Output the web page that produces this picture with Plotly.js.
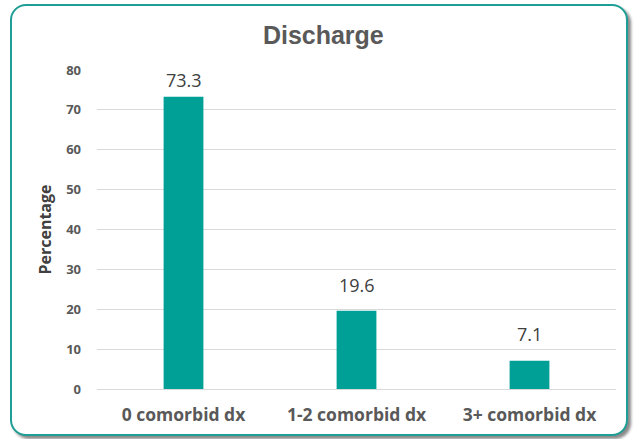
<!DOCTYPE html>
<html><head><meta charset="utf-8">
<script src="https://cdn.plot.ly/plotly-3.0.1.min.js"></script>
<style>
html,body{margin:0;padding:0;background:#fff;}
#frame{position:absolute;left:10px;top:4px;width:614px;height:428px;border:2px solid #1e9e94;border-radius:16px;box-shadow:3px 3px 3px #8a8a8a;background:#fff;}
#chart{position:absolute;left:0;top:0;width:634px;height:439px;}
</style></head>
<body>
<div id="frame"></div>
<div id="chart"></div>
<script>
const categories = ["0 comorbid dx", "1-2 comorbid dx", "3+ comorbid dx"];
const values = [73.3, 19.6, 7.1];
const labels = ["73.3", "19.6", "7.1"];
const tickVals = [0, 10, 20, 30, 40, 50, 60, 70, 80];

const trace = {
  type: "bar",
  x: categories,
  y: values,
  marker: {color: "#00A096"},
  width: 0.23,
  hoverinfo: "none"
};
// data labels placed above each bar (Excel-style, kept inside the plot area)
const annotations = categories.map((c, i) => ({
  x: c, y: Math.min(values[i] + 6.6, 77.4), xref: "x", yref: "y",
  text: labels[i], showarrow: false, yanchor: "middle", xanchor: "center",
  font: {family: "'Open Sans', sans-serif", size: 18, color: "#404040"}
}));
const layout = {
  width: 634, height: 439,
  paper_bgcolor: "rgba(0,0,0,0)",
  plot_bgcolor: "rgba(0,0,0,0)",
  margin: {l: 97, r: 18, t: 70, b: 50},
  title: {text: "<b>Discharge</b>", x: 0.51, xanchor: "center", y: 0.92, yanchor: "middle",
    font: {family: "Liberation Sans, Arial, sans-serif", size: 25, color: "#595959"}},
  showlegend: false,
  annotations: annotations,
  xaxis: {
    tickfont: {family: "'Open Sans', sans-serif", size: 17.5, color: "#595959", weight: "bold"},
    showgrid: false, showline: false, zeroline: false, ticks: "", fixedrange: true,
    ticklabelstandoff: 13
  },
  yaxis: {
    range: [0, 80], tickvals: tickVals, ticktext: tickVals.map(String),
    tickfont: {family: "'Open Sans', sans-serif", size: 13, color: "#595959", weight: "bold"},
    gridcolor: "#d9d9d9", gridwidth: 1, zeroline: true, zerolinecolor: "#d9d9d9", zerolinewidth: 1,
    showline: false, ticks: "", ticklen: 0, ticklabelstandoff: 15,
    title: {text: "<b>Percentage</b>", standoff: 10,
      font: {family: "'Open Sans', sans-serif", size: 16, color: "#404040"}}
  }
};
Plotly.newPlot("chart", [trace], layout, {displayModeBar: false, staticPlot: true});
</script>
</body></html>
